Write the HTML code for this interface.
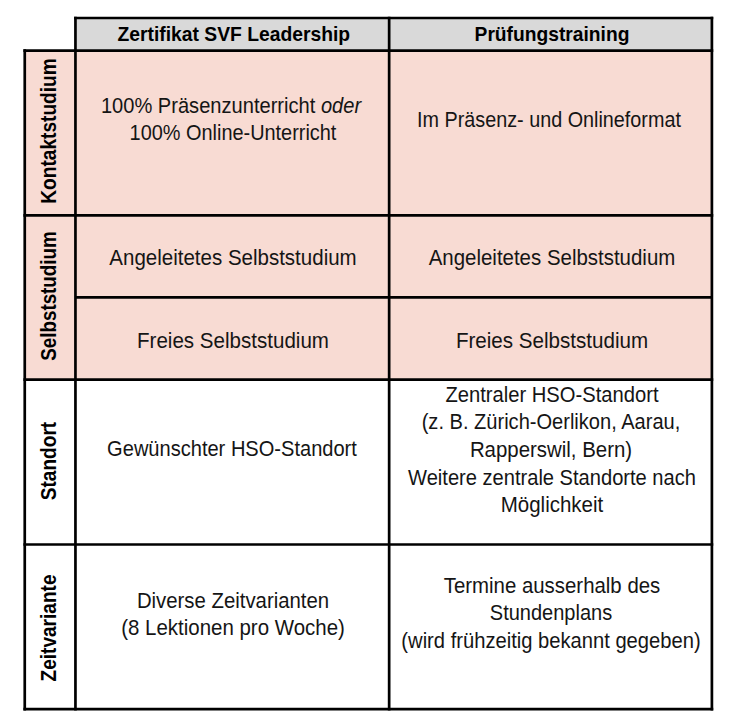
<!DOCTYPE html>
<html><head><meta charset="utf-8"><title>Table</title>
<style>
html,body{margin:0;padding:0;background:#fff;}
body{width:734px;height:723px;position:relative;overflow:hidden;font-family:"Liberation Sans",sans-serif;color:#151515;}
svg{position:absolute;left:0;top:0;}
svg line{stroke:#000;stroke-width:2.7;}
.t{position:absolute;width:400px;text-align:center;white-space:nowrap;transform-origin:50% 50%;}
.b{font-size:22.8px;line-height:27.5px;height:27.5px;}
.h{font-size:19.3px;line-height:26px;height:26px;font-weight:bold;color:#000;}
.l{position:absolute;width:200px;height:30px;line-height:30px;text-align:center;white-space:nowrap;font-size:21.6px;font-weight:bold;color:#000;transform-origin:50% 50%;}
</style></head><body>
<svg width="734" height="723" viewBox="0 0 734 723">
<rect x="75.45" y="18.0" width="636.45" height="32.65" fill="#d9d9d9"/>
<rect x="24.75" y="50.65" width="687.15" height="328.95" fill="#f8dbd3"/>
<line x1="24.75" y1="49.30" x2="24.75" y2="710.40"/>
<line x1="75.45" y1="16.65" x2="75.45" y2="710.40"/>
<line x1="389.15" y1="16.65" x2="389.15" y2="710.40"/>
<line x1="711.90" y1="16.65" x2="711.90" y2="710.40"/>
<line x1="74.10" y1="18.00" x2="713.25" y2="18.00"/>
<line x1="23.40" y1="50.65" x2="713.25" y2="50.65"/>
<line x1="23.40" y1="215.35" x2="713.25" y2="215.35"/>
<line x1="23.40" y1="379.60" x2="713.25" y2="379.60"/>
<line x1="23.40" y1="544.50" x2="713.25" y2="544.50"/>
<line x1="23.40" y1="709.05" x2="713.25" y2="709.05"/>
<line x1="75.45" y1="297.40" x2="711.90" y2="297.40"/>
</svg>
<div class="t h" style="left:33.84px;top:22.31px;transform:scaleX(1.0000)">Zertifikat SVF Leadership</div>
<div class="t h" style="left:352.15px;top:22.11px;transform:scaleX(0.9970)">Prüfungstraining</div>
<div class="t b" style="left:30.80px;top:92.25px;transform:scaleX(0.8812)">100% Präsenzunterricht <i>oder</i></div>
<div class="t b" style="left:32.50px;top:119.35px;transform:scaleX(0.8727)">100% Online-Unterricht</div>
<div class="t b" style="left:348.52px;top:105.65px;transform:scaleX(0.8674)">Im Präsenz- und Onlineformat</div>
<div class="t b" style="left:32.88px;top:244.25px;transform:scaleX(0.8995)">Angeleitetes Selbststudium</div>
<div class="t b" style="left:352.47px;top:244.25px;transform:scaleX(0.8968)">Angeleitetes Selbststudium</div>
<div class="t b" style="left:33.00px;top:326.55px;transform:scaleX(0.9018)">Freies Selbststudium</div>
<div class="t b" style="left:351.76px;top:326.75px;transform:scaleX(0.9029)">Freies Selbststudium</div>
<div class="t b" style="left:32.00px;top:434.65px;transform:scaleX(0.8799)">Gewünschter HSO-Standort</div>
<div class="t b" style="left:351.90px;top:381.15px;transform:scaleX(0.8854)">Zentraler HSO-Standort</div>
<div class="t b" style="left:351.18px;top:408.35px;transform:scaleX(0.8799)">(z. B. Zürich-Oerlikon, Aarau,</div>
<div class="t b" style="left:350.74px;top:436.05px;transform:scaleX(0.8954)">Rapperswil, Bern)</div>
<div class="t b" style="left:352.37px;top:463.65px;transform:scaleX(0.8815)">Weitere zentrale Standorte nach</div>
<div class="t b" style="left:352.00px;top:490.75px;transform:scaleX(0.8993)">Möglichkeit</div>
<div class="t b" style="left:32.50px;top:586.85px;transform:scaleX(0.8921)">Diverse Zeitvarianten</div>
<div class="t b" style="left:33.19px;top:614.05px;transform:scaleX(0.8974)">(8 Lektionen pro Woche)</div>
<div class="t b" style="left:352.42px;top:572.25px;transform:scaleX(0.8947)">Termine ausserhalb des</div>
<div class="t b" style="left:350.75px;top:599.25px;transform:scaleX(0.8777)">Stundenplans</div>
<div class="t b" style="left:351.10px;top:626.75px;transform:scaleX(0.8844)">(wird frühzeitig bekannt gegeben)</div>
<div class="l" style="left:-50.99px;top:115.71px;transform:rotate(-90deg) scaleX(0.8858)">Kontaktstudium</div>
<div class="l" style="left:-50.99px;top:280.75px;transform:rotate(-90deg) scaleX(0.8699)">Selbststudium</div>
<div class="l" style="left:-50.99px;top:445.56px;transform:rotate(-90deg) scaleX(0.8833)">Standort</div>
<div class="l" style="left:-50.99px;top:612.86px;transform:rotate(-90deg) scaleX(0.8826)">Zeitvariante</div>
</body></html>
